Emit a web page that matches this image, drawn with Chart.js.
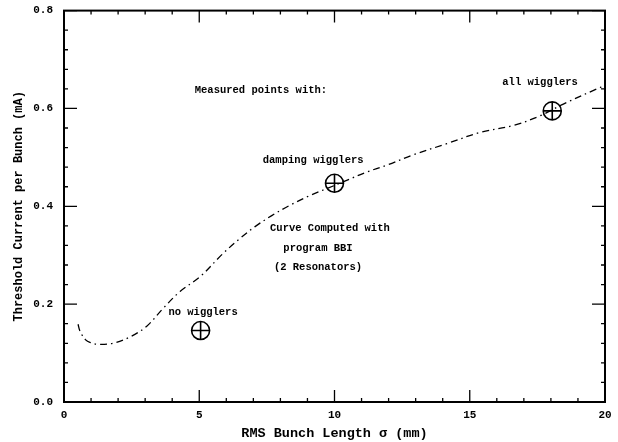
<!DOCTYPE html>
<html><head><meta charset="utf-8">
<script src="https://cdn.jsdelivr.net/npm/chart.js@4"></script>
<style>html,body{margin:0;padding:0;background:#fff}canvas{display:block}</style>
</head><body>
<canvas id="c" width="618" height="442"></canvas>
<script>
// Computed curve (BBI, resonators)
const curveX = [0.52,0.59,0.8,1.0,1.22,1.8,2.44,3.06,3.66,4.29,5.05,5.85,6.5,7.05,7.68,8.35,9.09,9.71,10.45,11.19,11.93,12.9,14.15,15.38,16.6,17.6,18.46,19.7,20];
const curveY = [0.159,0.145,0.127,0.121,0.118,0.12,0.133,0.155,0.191,0.226,0.257,0.302,0.334,0.358,0.381,0.402,0.422,0.436,0.453,0.47,0.484,0.505,0.528,0.551,0.565,0.585,0.609,0.64,0.647];
// Measured points
const measLabels = ["no wigglers","damping wigglers","all wigglers"];
const measX = [5.05,10.0,18.05];
const measY = [0.146,0.447,0.595];
// Axis ticks
const xTicks = [0,5,10,15,20];
const yTicks = [0.0,0.2,0.4,0.6,0.8];

const FONT = "'Liberation Mono', 'DejaVu Sans Mono', monospace";

const curveData = curveX.map((x,i)=>({x, y: curveY[i]}));
const measData = measX.map((x,i)=>({x, y: measY[i]}));

const annotations = [
  {text: "Measured points with:", x: 7.28, y: 0.636},
  {text: measLabels[1], x: 9.21, y: 0.493},
  {text: measLabels[2], x: 17.6, y: 0.653},
  {text: measLabels[0], x: 5.14, y: 0.1825},
  {text: "Curve Computed with", x: 9.83, y: 0.355},
  {text: "program BBI", x: 9.39, y: 0.314},
  {text: "(2 Resonators)", x: 9.39, y: 0.275}
];

const framePlugin = {
  id: 'frame',
  afterDatasetsDraw(chart) {
    const {ctx, chartArea: a, scales: {x, y}} = chart;
    ctx.save();
    ctx.strokeStyle = '#000';
    ctx.lineWidth = 1.3;
    ctx.beginPath();
    for (let v = 0; v <= 20; v += 1) {
      const px = x.getPixelForValue(v);
      const len = xTicks.includes(v) ? 12 : 4;
      ctx.moveTo(px, a.bottom); ctx.lineTo(px, a.bottom - len);
      ctx.moveTo(px, a.top); ctx.lineTo(px, a.top + len);
    }
    for (let k = 0; k <= 20; k++) {
      const v = k * 0.04;
      const py = y.getPixelForValue(v);
      const len = (k % 5 === 0) ? 13 : 4;
      ctx.moveTo(a.left, py); ctx.lineTo(a.left + len, py);
      ctx.moveTo(a.right, py); ctx.lineTo(a.right - len, py);
    }
    ctx.stroke();
    ctx.lineWidth = 2;
    ctx.strokeRect(a.left, a.top, a.right - a.left, a.bottom - a.top);
    ctx.fillStyle = '#000';
    ctx.font = "bold 10.5px " + FONT;
    ctx.textAlign = 'center';
    ctx.textBaseline = 'middle';
    annotations.forEach(an => {
      ctx.fillText(an.text, x.getPixelForValue(an.x), y.getPixelForValue(an.y));
    });
    ctx.restore();
  }
};

new Chart(document.getElementById('c'), {
  type: 'scatter',
  data: {
    datasets: [
      {
        label: 'curve', data: curveData, showLine: true,
        borderColor: '#000', borderWidth: 1.3, borderDash: [7,4,1.5,4],
        pointRadius: 0, tension: 0.35, fill: false, order: 3
      },
      {
        label: 'meas-circle', data: measData, showLine: false,
        pointStyle: 'circle', pointRadius: 9, pointBorderWidth: 1.6,
        pointBorderColor: '#000', pointBackgroundColor: 'rgba(0,0,0,0)', order: 1
      },
      {
        label: 'meas-cross', data: measData, showLine: false,
        pointStyle: 'cross', pointRadius: 9, pointBorderWidth: 1.6,
        pointBorderColor: '#000', order: 2
      }
    ]
  },
  options: {
    responsive: false, animation: false, devicePixelRatio: 1,
    layout: {padding: {top: 9, right: 13, left: 0, bottom: 0}},
    plugins: {legend: {display: false}, tooltip: {enabled: false}},
    scales: {
      x: {
        type: 'linear', min: 0, max: 20,
        afterBuildTicks: s => { s.ticks = xTicks.map(v => ({value: v})); },
        afterFit: s => { s.height = 40; s.paddingLeft = 0; s.paddingRight = 0; },
        grid: {display: false, drawTicks: false},
        border: {display: false},
        ticks: {padding: 7, color: '#000', font: {family: FONT, size: 11, weight: 'bold'}, maxRotation: 0,
                callback: v => String(v)},
        title: {display: true, text: 'RMS Bunch Length σ (mm)', color: '#000',
                font: {family: FONT, size: 13.5, weight: 'bold'}, padding: {top: 2, bottom: 0}}
      },
      y: {
        type: 'linear', min: 0, max: 0.8,
        afterBuildTicks: s => { s.ticks = yTicks.map(v => ({value: v})); },
        afterFit: s => { s.width = 64; s.paddingTop = 0; s.paddingBottom = 0; },
        grid: {display: false, drawTicks: false},
        border: {display: false},
        ticks: {padding: 11, color: '#000', font: {family: FONT, size: 11, weight: 'bold'},
                callback: v => Number(v).toFixed(1)},
        title: {display: true, text: 'Threshold Current per Bunch (mA)', color: '#000',
                font: {family: FONT, size: 12, weight: 'bold'}, padding: {top: 12, bottom: 0}}
      }
    }
  },
  plugins: [framePlugin]
});
</script>
</body></html>
